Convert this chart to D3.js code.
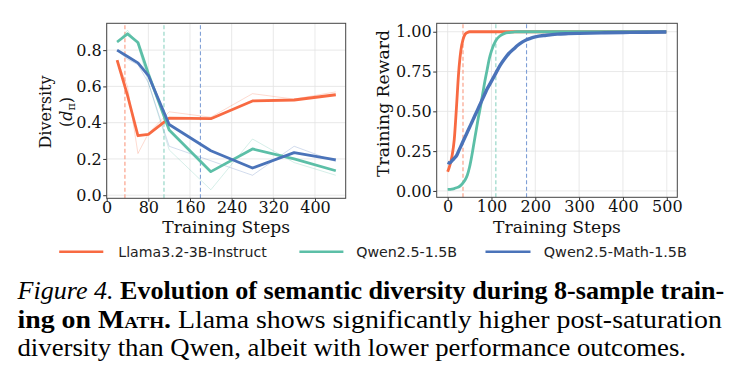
<!DOCTYPE html>
<html><head><meta charset="utf-8">
<script src="https://cdn.jsdelivr.net/npm/d3@7"></script>
<style>body{margin:0;background:#fff}svg{display:block}</style>
</head><body>
<svg id="c" width="739" height="379"></svg>
<script>
// ---------- DATA ----------
const divSteps = [20, 40, 60, 80, 120, 200, 280, 360, 440];
const divLlama = [0.745, 0.55, 0.328, 0.336, 0.425, 0.422, 0.52, 0.525, 0.554];
const divQwen = [0.845, 0.89, 0.842, 0.67, 0.36, 0.13, 0.255, 0.2, 0.135];
const divQwenMath = [0.80, 0.765, 0.73, 0.66, 0.39, 0.245, 0.15, 0.235, 0.195];
const divLlamaRaw = [0.745, 0.60, 0.23, 0.34, 0.46, 0.43, 0.56, 0.53, 0.57];
const divQwenRaw = [0.84, 0.91, 0.83, 0.62, 0.25, 0.03, 0.31, 0.18, 0.11];
const divQwenMathRaw = [0.80, 0.75, 0.72, 0.62, 0.27, 0.19, 0.11, 0.27, 0.185];

const rewSteps = [0,5,10,15,20,25,30,35,40,45,50,55,60,65,70,75,80,85,90,95,100,110,120,130,140,150,160,170,180,190,200,225,250,275,300,350,400,450,499];
const rewLlama = [0.12,0.16,0.22,0.32,0.52,0.74,0.88,0.95,0.985,0.995,1,1,1,1,1,1,1,1,1,1,1,1,1,1,1,1,1,1,1,1,1,1,1,1,1,1,1,1,1];
const rewQwen = [0.01,0.01,0.012,0.015,0.02,0.025,0.035,0.05,0.07,0.1,0.15,0.22,0.30,0.38,0.46,0.53,0.61,0.69,0.76,0.83,0.88,0.945,0.975,0.99,0.995,0.998,1,1,1,1,1,1,1,1,1,1,1,1,1];
const rewQwenMath = [0.18,0.175,0.19,0.205,0.22,0.25,0.28,0.31,0.34,0.37,0.40,0.43,0.46,0.49,0.52,0.55,0.58,0.61,0.64,0.665,0.69,0.74,0.79,0.83,0.865,0.89,0.915,0.935,0.95,0.96,0.968,0.978,0.985,0.988,0.99,0.993,0.995,0.997,0.998];

const saturation = [35, 110, 180];
const seriesNames = ["Llama3.2-3B-Instruct", "Qwen2.5-1.5B", "Qwen2.5-Math-1.5B"];
const colors = ["#F86A42", "#5CBFA7", "#4A73B9"];
const dashColors = ["#FA9A80", "#8DD3C2", "#7F9FD6"];

const divTicksX = [0, 80, 160, 240, 320, 400];
const divTicksY = [0, 0.2, 0.4, 0.6, 0.8];
const rewTicksX = [0, 100, 200, 300, 400, 500];
const rewTicksY = [0, 0.25, 0.5, 0.75, 1.0];

// ---------- DRAW ----------
const svg = d3.select("#c");
svg.append("rect").attr("width", 739).attr("height", 379).attr("fill", "#fff");
const serif = "DejaVu Serif";

function fitSize(sel, base, target) {
  sel.attr("font-size", base);
  const w = sel.node().getComputedTextLength();
  sel.attr("font-size", base * target / w);
}

function panel(o) {
  const g = svg.append("g");
  const x = o.x, y = o.y;
  const [x0, x1] = x.range(), [y0, y1] = y.range();
  g.selectAll(".gx").data(o.tx).join("line")
    .attr("x1", d => x(d)).attr("x2", d => x(d)).attr("y1", y0).attr("y2", y1)
    .attr("stroke", "#e3e3e3").attr("stroke-width", 0.8);
  g.selectAll(".gy").data(o.ty).join("line")
    .attr("y1", d => y(d)).attr("y2", d => y(d)).attr("x1", x0).attr("x2", x1)
    .attr("stroke", "#e3e3e3").attr("stroke-width", 0.8);
  const ax = g.append("g").attr("transform", `translate(0,${y0})`)
    .call(d3.axisBottom(x).tickValues(o.tx).tickFormat(o.fx).tickSize(3.5).tickPadding(0));
  const ay = g.append("g").attr("transform", `translate(${x0},0)`)
    .call(d3.axisLeft(y).tickValues(o.ty).tickFormat(o.fy).tickSize(3.5).tickPadding(1.5));
  [ax, ay].forEach(a => {
    a.select(".domain").remove();
    a.selectAll("line").attr("stroke", "#333");
    a.selectAll("text").attr("font-family", serif).attr("font-size", 16).attr("fill", "#111");
  });
  const lab = g.append("text").attr("x", (x0 + x1) / 2).attr("y", 232.7)
    .attr("text-anchor", "middle").attr("font-family", serif).attr("fill", "#111")
    .text("Training Steps");
  fitSize(lab, 17, 128);
  return g;
}

// Left panel
const xL = d3.scaleLinear([0, 459], [106.7, 345.7]);
const yL = d3.scaleLinear([-0.017, 0.948], [198.3, 23.3]);
const gL = panel({x: xL, y: yL, tx: divTicksX, ty: divTicksY, fx: d3.format("d"), fy: d3.format(".1f")});
const lineL = d3.line().x(d => xL(d[0])).y(d => yL(d[1]));
saturation.forEach((s, i) => {
  gL.append("line").attr("x1", xL(s)).attr("x2", xL(s)).attr("y1", 198.3).attr("y2", 23.3)
    .attr("stroke", dashColors[i]).attr("stroke-width", 1.1).attr("stroke-dasharray", "4,2.5");
});
[divLlamaRaw, divQwenRaw, divQwenMathRaw].forEach((v, i) => {
  gL.append("path").datum(divSteps.map((s, j) => [s, v[j]])).attr("d", lineL)
    .attr("fill", "none").attr("stroke", colors[i]).attr("stroke-width", 1).attr("stroke-opacity", 0.25);
});
[divLlama, divQwen, divQwenMath].forEach((v, i) => {
  gL.append("path").datum(divSteps.map((s, j) => [s, v[j]])).attr("d", lineL)
    .attr("fill", "none").attr("stroke", colors[i]).attr("stroke-width", 2.8).attr("stroke-linejoin", "round");
});
gL.append("rect").attr("x", 106.7).attr("y", 23.3).attr("width", 345.7 - 106.7).attr("height", 198.3 - 23.3)
  .attr("fill", "none").attr("stroke", "#444").attr("stroke-width", 1);
const dl1 = gL.append("text").attr("transform", "translate(51,112) rotate(-90)")
  .attr("text-anchor", "middle").attr("font-family", serif).attr("fill", "#111").text("Diversity");
fitSize(dl1, 16, 73);
const fsL = +dl1.attr("font-size");
const dl2 = gL.append("text").attr("transform", "translate(71.5,112) rotate(-90)")
  .attr("text-anchor", "middle").attr("font-family", serif).attr("font-size", fsL).attr("fill", "#111");
dl2.append("tspan").text("(");
dl2.append("tspan").attr("font-style", "italic").text("d");
dl2.append("tspan").attr("font-size", fsL * 0.7).attr("dy", 3).text("π");
dl2.append("tspan").attr("dy", -3).text(")");

// Right panel
const xR = d3.scaleLinear([-25, 524], [436.7, 677.3]);
const yR = d3.scaleLinear([-0.04, 1.053], [197.3, 23.3]);
const gR = panel({x: xR, y: yR, tx: rewTicksX, ty: rewTicksY, fx: d3.format("d"), fy: d3.format(".2f")});
const lineR = d3.line().x(d => xR(d[0])).y(d => yR(d[1])).curve(d3.curveMonotoneX);
saturation.forEach((s, i) => {
  gR.append("line").attr("x1", xR(s)).attr("x2", xR(s)).attr("y1", 197.3).attr("y2", 23.3)
    .attr("stroke", dashColors[i]).attr("stroke-width", 1.1).attr("stroke-dasharray", "4,2.5");
});
[rewLlama, rewQwen, rewQwenMath].forEach((v, i) => {
  gR.append("path").datum(rewSteps.map((s, j) => [s, v[j]])).attr("d", lineR)
    .attr("fill", "none").attr("stroke", colors[i]).attr("stroke-width", i === 2 ? 3.4 : 2.8)
    .attr("stroke-linejoin", "round");
});
gR.append("rect").attr("x", 436.7).attr("y", 23.3).attr("width", 677.3 - 436.7).attr("height", 197.3 - 23.3)
  .attr("fill", "none").attr("stroke", "#444").attr("stroke-width", 1);
const rl = gR.append("text").attr("transform", "translate(389,103.5) rotate(-90)")
  .attr("text-anchor", "middle").attr("font-family", serif).attr("fill", "#111")
  .text("Training Reward");
fitSize(rl, 16, 147);

// Legend
const legX = [[59.2, 103.3, 118.3, 148.4], [299.4, 343.4, 356.2, 100.9], [485.5, 530.5, 543.8, 143.1]];
const lg = svg.append("g");
seriesNames.forEach((n, i) => {
  const [a, b, t, w] = legX[i];
  lg.append("line").attr("x1", a).attr("x2", b).attr("y1", 251.7).attr("y2", 251.7)
    .attr("stroke", colors[i]).attr("stroke-width", 2.6);
  lg.append("text").attr("x", t).attr("y", 256.7).attr("font-family", "DejaVu Sans").attr("font-size", 13.7)
    .attr("fill", "#222").attr("textLength", w).attr("lengthAdjust", "spacingAndGlyphs").text(n);
});

// Caption (Times-like; each line stretched horizontally to its measured width)
const cap = svg.append("g").attr("font-family", "'Liberation Serif', 'Times New Roman', serif")
  .attr("font-size", 24.5).attr("fill", "#000");
function capLine(yb, width, parts) {
  const g = cap.append("g").attr("transform", `translate(17.5,${yb})`);
  const t = g.append("text").attr("x", 0).attr("y", 0);
  parts.forEach(p => {
    const s = t.append("tspan").text(p.t);
    if (p.b) s.attr("font-weight", "bold");
    if (p.i) s.attr("font-style", "italic");
    if (p.sc) s.attr("font-variant", "small-caps");
  });
  const w = t.node().getComputedTextLength();
  t.attr("transform", `scale(${width / w},1)`);
}
capLine(299.3, 707, [{t: "Figure 4.", i: true}, {t: " Evolution of semantic diversity during 8-sample train-", b: true}]);
capLine(327.5, 705, [{t: "ing on ", b: true}, {t: "Math", b: true, sc: true}, {t: ".", b: true}, {t: " Llama shows significantly higher post-saturation"}]);
capLine(355.5, 669, [{t: "diversity than Qwen, albeit with lower performance outcomes."}]);
</script>
</body></html>
